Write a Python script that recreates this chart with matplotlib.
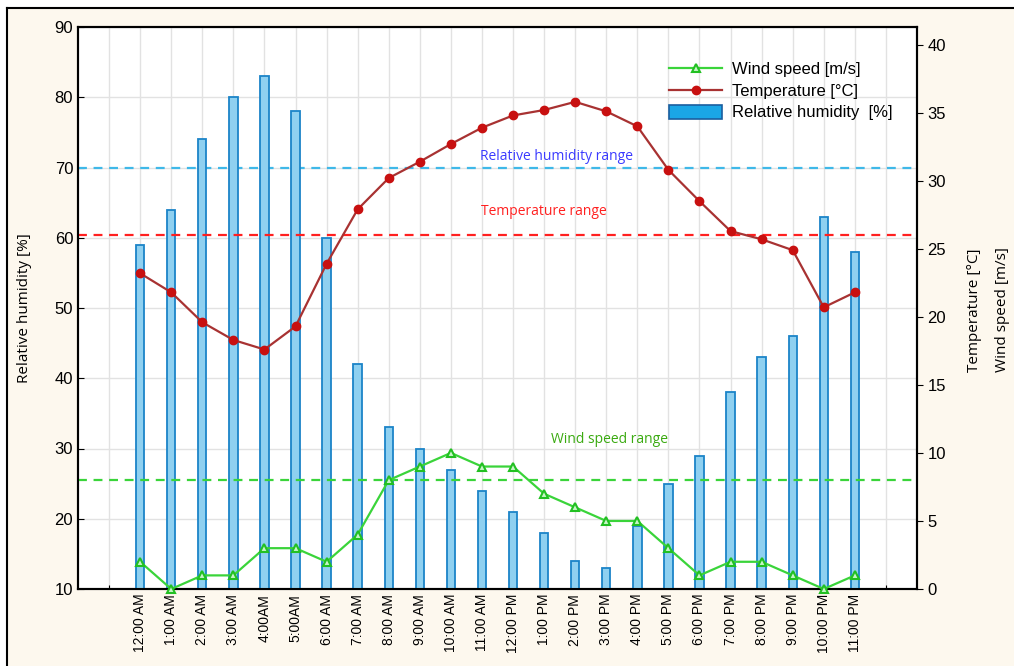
import matplotlib.pyplot as plt
from matplotlib.patches import Rectangle, Patch
from matplotlib.lines import Line2D

hours = ['12:00 AM', '1:00 AM', '2:00 AM', '3:00 AM', '4:00AM', '5:00AM',
         '6:00 AM', '7:00 AM', '8:00 AM', '9:00 AM', '10:00 AM', '11:00 AM',
         '12:00 PM', '1:00 PM', '2:00 PM', '3:00 PM', '4:00 PM', '5:00 PM',
         '6:00 PM', '7:00 PM', '8:00 PM', '9:00 PM', '10:00 PM', '11:00 PM']
humidity = [59, 64, 74, 80, 83, 78, 60, 42, 33, 30, 27, 24,
            21, 18, 14, 13, 19, 25, 29, 38, 43, 46, 63, 58]
temperature = [23.2, 21.8, 19.6, 18.3, 17.6, 19.3, 23.9, 27.9, 30.2, 31.4, 32.7, 33.9,
               34.8, 35.2, 35.8, 35.1, 34.0, 30.8, 28.5, 26.3, 25.7, 24.9, 20.7, 21.8]
wind = [2, 0, 1, 1, 3, 3, 2, 4, 8, 9, 10, 9,
        9, 7, 6, 5, 5, 3, 1, 2, 2, 1, 0, 1]

humidity_range = 70
temperature_range = 26
wind_range = 8

x = list(range(len(hours)))

fig = plt.figure(figsize=(10.14, 6.66), dpi=100, facecolor='white')
# cream panel with a black frame on top and left
top = 1 - 8 / 666
left = 7 / 1014
fig.add_artist(Rectangle((left, 0), 1, top, transform=fig.transFigure,
                         facecolor='#fdf8ee', edgecolor='none', zorder=-10))
fig.add_artist(Line2D([left, 1], [top, top], transform=fig.transFigure,
                      color='black', lw=1.5))
fig.add_artist(Line2D([left, left], [0, top], transform=fig.transFigure,
                      color='black', lw=1.5))

ax = fig.add_axes([78 / 1014, 77 / 666, (917 - 78) / 1014, (589 - 27) / 666])
ax.set_facecolor('white')
ax2 = ax.twinx()

# humidity bars start from the bottom of the left axis
ax.bar(x, [h - 10 for h in humidity], bottom=10, width=0.27,
       facecolor='#8fd0f0', edgecolor='#1b84c8', linewidth=1.3, zorder=3)
ax.axhline(humidity_range, color='#3fb8e8', ls='--', lw=1.6, dashes=(4, 3), zorder=2)

ax.set_xlim(-2, 25)
ax.set_ylim(10, 90)
ax.set_yticks(range(10, 91, 10))
ax.set_xticks(range(-1, 25))
ax.set_xticklabels([''] + hours + [''], rotation=90, fontsize=10,
                   family='Liberation Sans')
ax.tick_params(axis='y', labelsize=12, direction='in', length=4)
ax.tick_params(axis='x', direction='in', length=3)
for lbl in ax.get_yticklabels():
    lbl.set_family('Liberation Sans')
ax.grid(True, color='#e2e2e2', lw=1, zorder=0)
ax.set_axisbelow(True)
ax.set_ylabel('Relative humidity [%]', fontsize=11, family='Open Sans', labelpad=16)

ax2.axhline(temperature_range, color='#ff2020', ls='--', lw=1.6, dashes=(4, 3), zorder=2)
ax2.axhline(wind_range, color='#3ad43a', ls='--', lw=1.6, dashes=(4, 3), zorder=2)
ax2.plot(x, wind, color='#3ad43a', lw=1.6, marker='^', markersize=6,
         markerfacecolor='#c8f5c8', markeredgecolor='#22c022', markeredgewidth=1.5,
         clip_on=False, zorder=5)
ax2.plot(x, temperature, color='#a83232', lw=1.6, marker='o', markersize=6,
         markerfacecolor='#c81010', markeredgecolor='#c81010',
         clip_on=False, zorder=5)
ax2.set_ylim(0, 41.3)
ax2.set_yticks(range(0, 41, 5))
ax2.tick_params(axis='y', labelsize=12, direction='out', length=4)
for lbl in ax2.get_yticklabels():
    lbl.set_family('Liberation Sans')

for spine in list(ax.spines.values()) + list(ax2.spines.values()):
    spine.set_linewidth(1.5)

ax2.text(13.4, 31.2, 'Relative humidity range', color='#3a3aff', fontsize=10,
         family='Open Sans', ha='center', va='bottom')
ax2.text(13.0, 27.2, 'Temperature range', color='#ff2020', fontsize=10,
         family='Open Sans', ha='center', va='bottom')
ax2.text(15.1, 10.4, 'Wind speed range', color='#3aaa10', fontsize=10,
         family='Open Sans', ha='center', va='bottom')

fig.text(975 / 1014, 1 - 310 / 666, 'Temperature [°C]', rotation=90, fontsize=11,
         family='Open Sans', ha='center', va='center')
fig.text(1002 / 1014, 1 - 310 / 666, 'Wind speed [m/s]', rotation=90, fontsize=11,
         family='Open Sans', ha='center', va='center')

handles = [Line2D([], [], color='#3ad43a', lw=1.6, marker='^', markersize=6,
                  markerfacecolor='#c8f5c8', markeredgecolor='#22c022', markeredgewidth=1.5),
           Line2D([], [], color='#a83232', lw=1.6, marker='o', markersize=6,
                  markerfacecolor='#c81010', markeredgecolor='#c81010'),
           Patch(facecolor='#1aa6e6', edgecolor='#1a5fa0', linewidth=1.2)]
ax2.legend(handles, ['Wind speed [m/s]', 'Temperature [°C]', 'Relative humidity  [%]'],
           loc='upper right', bbox_to_anchor=(0.987, 0.962), frameon=False,
           prop={'family': 'Liberation Sans', 'size': 12}, handlelength=3.2,
           labelspacing=0.35, borderpad=0.3, handletextpad=0.6, handleheight=0.9)

fig.savefig('out.png', dpi=100, facecolor=fig.get_facecolor())
